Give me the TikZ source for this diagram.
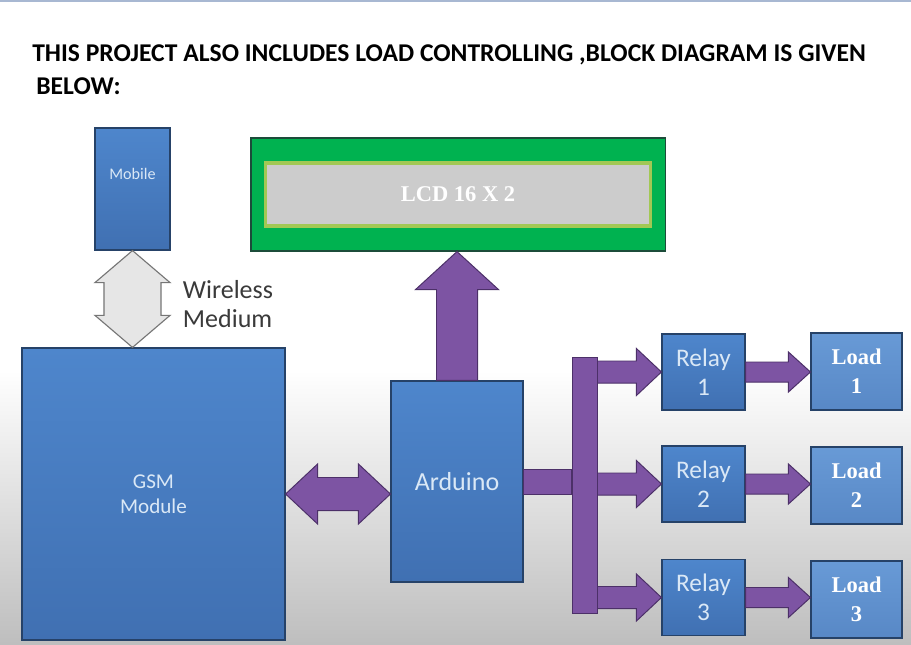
\documentclass[tikz,border=0pt]{standalone}
\usepackage{fontspec}
\setmainfont{Carlito}
\newfontfamily\timesfont{Liberation Serif}
\usepackage{tikz}
\usetikzlibrary{calc, positioning}
\definecolor{boxtop}{RGB}{78,134,204}
\definecolor{boxbottom}{RGB}{64,112,178}
\definecolor{loadtop}{RGB}{104,154,214}
\definecolor{loadbottom}{RGB}{88,136,198}
\definecolor{boxedge}{RGB}{38,66,104}
\definecolor{boxtext}{RGB}{218,232,246}
\definecolor{arrowpurple}{RGB}{125,84,163}
\definecolor{arrowedge}{RGB}{76,48,104}
\definecolor{lcdgreen}{RGB}{0,178,80}
\definecolor{lcdedge}{RGB}{28,76,58}
\definecolor{screengrey}{RGB}{204,204,204}
\definecolor{screenedge}{RGB}{162,200,84}
\definecolor{wirelessgrey}{RGB}{230,230,230}
\definecolor{wirelessedge}{RGB}{118,118,118}
\definecolor{bggrey}{RGB}{190,190,190}
\definecolor{topline}{RGB}{168,184,210}
\definecolor{labelgrey}{RGB}{58,58,58}
\tikzset{
  blockbox/.style={rectangle, draw=boxedge, top color=boxtop, bottom color=boxbottom,
    line width=0.8pt, text=boxtext, align=center, inner sep=0pt},
  relaybox/.style={blockbox, minimum width=2.075cm, minimum height=1.9cm,
    font=\fontsize{18}{20.5}\selectfont},
  loadbox/.style={blockbox, top color=loadtop, bottom color=loadbottom,
    minimum width=2.275cm, minimum height=1.925cm, text=white,
    font=\timesfont\bfseries\fontsize{16}{20.5}\selectfont},
  blockarrow/.style={fill=arrowpurple, draw=arrowedge, line width=0.7pt},
  whitearrow/.style={fill=wirelessgrey, draw=wirelessedge, line width=0.8pt},
  titletext/.style={font=\bfseries\fontsize{18.2}{21}\selectfont, text=black, inner sep=0pt}
}
\begin{document}
\begin{tikzpicture}[x=0.025cm, y=-0.025cm]
  \useasboundingbox (0,0) rectangle (911,644);
  % Background
  \fill[white] (0,0) rectangle (911,644);
  \shade[top color=white, bottom color=bggrey] (0,370) rectangle (911,644);
  \fill[topline] (0,0) rectangle (911,2.5);

  % Heading
  \node[titletext, anchor=base west] (title) at (32,61) {THIS PROJECT ALSO INCLUDES LOAD CONTROLLING ,BLOCK DIAGRAM IS GIVEN};
  \node[titletext, anchor=base west] (title2) at (36,94) {BELOW:};

  % Mobile and GSM
  \node[blockbox, minimum width=1.875cm, minimum height=3.05cm,
    label={[text=boxtext, font=\fontsize{11.5}{13}\selectfont, anchor=center, yshift=-1.175cm]north:Mobile}] (mobile) at (132.5,189) {};
  \node[blockbox, minimum width=6.575cm, minimum height=7.3cm, font=\fontsize{15}{17.5}\selectfont] (gsm) at (153.5,494) {GSM\\Module};
  \node[anchor=west, align=left, text=labelgrey, font=\fontsize{18.5}{20}\selectfont] (wireless) at (178,304) {Wireless\\Medium};

  % LCD
  \node[rectangle, draw=lcdedge, fill=lcdgreen, line width=0.8pt, minimum width=10.35cm, minimum height=2.825cm] (lcd) at (458,194.5) {};
  \node[rectangle, draw=screenedge, fill=screengrey, line width=2.2pt, minimum width=9.625cm, minimum height=1.575cm,
    text=white, font=\timesfont\bfseries\fontsize{16}{19}\selectfont] (screen) at (lcd.center) {LCD 16 X 2};

  % Arduino and bus
  \node[blockbox, minimum width=3.3cm, minimum height=5.025cm, font=\fontsize{18.5}{20}\selectfont] (arduino) at (457,481.5) {Arduino};
  \node[rectangle, draw=arrowedge, fill=arrowpurple, line width=0.7pt, minimum width=0.625cm, minimum height=6.375cm] (bus) at (584.5,485.5) {};

  % Relays and loads
  \node[relaybox] (relay1) at (703.5,372) {Relay\\1};
  \node[relaybox] (relay2) at (703.5,484) {Relay\\2};
  \node[relaybox] (relay3) at (703.5,597.5) {Relay\\3};
  \node[loadbox] (load1) at (856.5,371.5) {Load\\1};
  \node[loadbox] (load2) at (856.5,485.5) {Load\\2};
  \node[loadbox] (load3) at (856.5,599.5) {Load\\3};

  % Wireless link
  \filldraw[whitearrow] let \p1=(mobile.south), \p2=(mobile.south |- gsm.north) in
    (\x1,\y1) -- (\x1+0.9375cm,\y1-0.8cm) -- (\x1+0.7125cm,\y1-0.8cm) -- (\x1+0.7125cm,\y2+0.8cm)
    -- (\x1+0.9375cm,\y2+0.8cm) -- (\x1,\y2) -- (\x1-0.9375cm,\y2+0.8cm) -- (\x1-0.7125cm,\y2+0.8cm)
    -- (\x1-0.7125cm,\y1-0.8cm) -- (\x1-0.9375cm,\y1-0.8cm) -- cycle;

  % GSM <-> Arduino
  \filldraw[blockarrow] let \p1=(gsm.east), \p2=(arduino.west) in
    (\x1,\y1) -- (\x1+0.8cm,\y1+0.75cm) -- (\x1+0.8cm,\y1+0.4125cm) -- (\x2-0.8cm,\y1+0.4125cm)
    -- (\x2-0.8cm,\y1+0.75cm) -- (\x2,\y1) -- (\x2-0.8cm,\y1-0.75cm) -- (\x2-0.8cm,\y1-0.4125cm)
    -- (\x1+0.8cm,\y1-0.4125cm) -- (\x1+0.8cm,\y1-0.75cm) -- cycle;

  % Arduino -> LCD
  \filldraw[blockarrow] let \p1=(arduino.north), \p2=(arduino.north |- lcd.south) in
    (\x1-0.5125cm,\y1) -- (\x1-0.5125cm,\y2-0.95cm) -- (\x1-1.0375cm,\y2-0.95cm) -- (\x1,\y2)
    -- (\x1+1.0375cm,\y2-0.95cm) -- (\x1+0.5125cm,\y2-0.95cm) -- (\x1+0.5125cm,\y1) -- cycle;

  % Arduino -> bus
  \filldraw[blockarrow] let \p1=(arduino.east), \p2=(bus.west) in
    (\x1,\y1+0.3125cm) rectangle (\x2,\y1-0.3125cm);

  % bus -> relays -> loads
  \foreach \i in {1,2,3}{
    \filldraw[blockarrow] let \p1=(bus.east |- relay\i.west), \p2=(relay\i.west) in
      (\x1,\y1+0.275cm) -- (\x2-0.625cm,\y1+0.275cm) -- (\x2-0.625cm,\y1+0.5875cm) -- (\x2,\y1)
      -- (\x2-0.625cm,\y1-0.5875cm) -- (\x2-0.625cm,\y1-0.275cm) -- (\x1,\y1-0.275cm) -- cycle;
    \filldraw[blockarrow] let \p1=(relay\i.east), \p2=(load\i.west |- relay\i.east) in
      (\x1,\y1+0.25cm) -- (\x2-0.55cm,\y1+0.25cm) -- (\x2-0.55cm,\y1+0.5cm) -- (\x2,\y1)
      -- (\x2-0.55cm,\y1-0.5cm) -- (\x2-0.55cm,\y1-0.25cm) -- (\x1,\y1-0.25cm) -- cycle;
  }
\end{tikzpicture}
\end{document}
